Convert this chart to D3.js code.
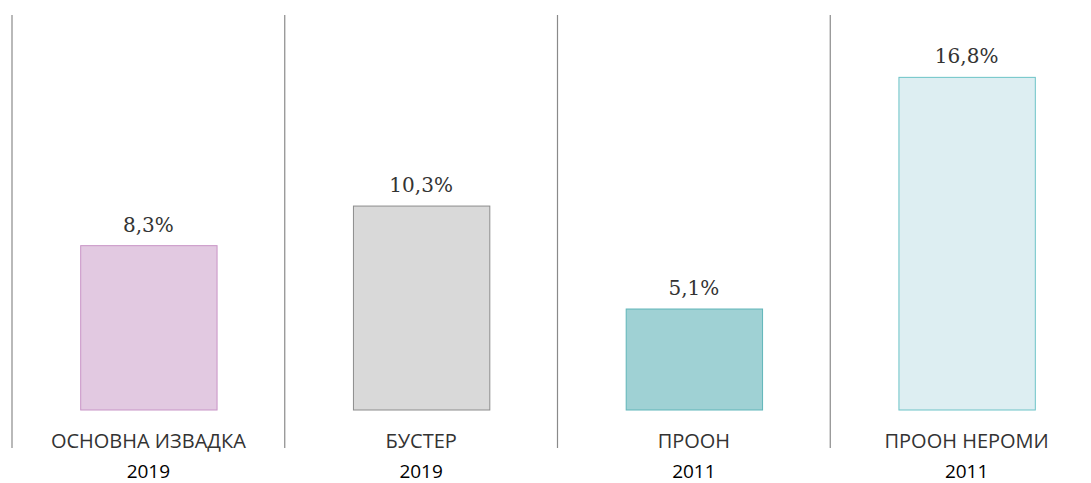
<!DOCTYPE html>
<html><head><meta charset="utf-8">
<script src="https://cdn.jsdelivr.net/npm/d3@7"></script>
<style>body{margin:0;background:#fff}</style>
</head><body>
<svg id="c" width="1091" height="483"></svg>
<script>
const categories = ["ОСНОВНА ИЗВАДКА", "БУСТЕР", "ПРООН", "ПРООН НЕРОМИ"];
const years = ["2019", "2019", "2011", "2011"];
const values = [8.3, 10.3, 5.1, 16.8];
const fills = ["#e2c9e1", "#d9d9d9", "#9fd1d4", "#ddeef2"];
const strokes = ["#c894c6", "#8c8c8c", "#5fb5b9", "#6cc3c7"];

const svg = d3.select("#c");
const x = d3.scaleBand().domain(categories).range([12, 1103]).paddingInner(0.5).paddingOuter(0.25);
const y = d3.scaleLinear().domain([0, 10]).range([410, 212]);

const bandStart = categories.map((c, i) => 12 + i * x.step());
svg.selectAll("line.sep").data(bandStart).join("line")
  .attr("x1", d => d).attr("x2", d => d).attr("y1", 15).attr("y2", 448)
  .attr("stroke", "#8a8a8a").attr("stroke-width", 1.2);

svg.selectAll("rect.bar").data(values).join("rect")
  .attr("x", (d, i) => x(categories[i]) + 0.5)
  .attr("width", x.bandwidth())
  .attr("y", d => y(d))
  .attr("height", d => y(0) - y(d))
  .attr("fill", (d, i) => fills[i])
  .attr("stroke", (d, i) => strokes[i]).attr("stroke-width", 1);

svg.selectAll("text.val").data(values).join("text")
  .attr("x", (d, i) => x(categories[i]) + x.bandwidth() / 2)
  .attr("y", d => y(d) - 14)
  .attr("text-anchor", "middle")
  .attr("font-family", "'DejaVu Serif', 'Liberation Serif', serif")
  .attr("font-size", 20).attr("fill", "#333")
  .text(d => d.toFixed(1).replace(".", ",") + "%");

svg.selectAll("text.cat").data(categories).join("text")
  .attr("x", d => x(d) + x.bandwidth() / 2)
  .attr("y", 448)
  .attr("text-anchor", "middle")
  .attr("font-family", "'Open Sans', sans-serif")
  .attr("font-size", 20).attr("fill", "#333")
  .text(d => d);

svg.selectAll("text.yr").data(years).join("text")
  .attr("x", (d, i) => x(categories[i]) + x.bandwidth() / 2)
  .attr("y", 478)
  .attr("text-anchor", "middle")
  .attr("font-family", "'Open Sans', sans-serif")
  .attr("font-size", 19).attr("fill", "#000")
  .text(d => d);
</script>
</body></html>
